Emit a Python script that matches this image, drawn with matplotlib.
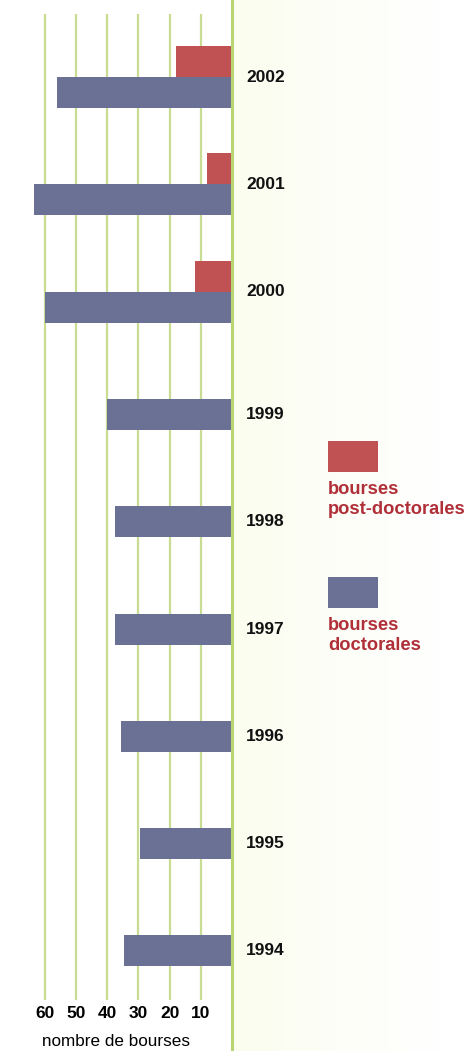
import numpy as np
import matplotlib
matplotlib.use("Agg")
import matplotlib.pyplot as plt
from matplotlib.patches import Rectangle
from matplotlib.lines import Line2D

# nombre de bourses par année
years = ['2002', '2001', '2000', '1999', '1998', '1997', '1996', '1995', '1994']
doctorales = [56, 63.5, 60, 40, 37.5, 37.5, 35.5, 29.5, 34.5]
post_doctorales = [18, 8, 12, 0, 0, 0, 0, 0, 0]
ticks = [60, 50, 40, 30, 20, 10]

RED = '#c05253'
BLUE = '#6b7194'
TXT_RED = '#b02f38'
GRID = '#c8dd92'
AXLINE = '#b7d573'
FONT = ['Liberation Sans', 'DejaVu Sans']

W, H = 468, 1051
fig = plt.figure(figsize=(W / 100, H / 100), dpi=100)
fig.patch.set_facecolor('white')

# faint yellow-green wash to the right of the axis
bg = fig.add_axes([232 / W, 0, 210 / W, 1], zorder=0)
grad = np.linspace(1, 0, 200)[None, :]
bg.imshow(grad, aspect='auto', cmap=matplotlib.colors.LinearSegmentedColormap.from_list(
    'wash', ['#ffffff', '#fbfdef']), extent=[0, 1, 0, 1])
bg.axis('off')

# axes: 0 at x=232px, 3.12 px per bourse, top 14px, bottom 1000px
top, bottom = 14, 1000
ax = fig.add_axes([0, 1 - bottom / H, 232 / W, (bottom - top) / H], zorder=1)
ax.patch.set_alpha(0)
slot = 107.3
h = 31 / slot
ax.set_xlim(232 / 3.12, 0)
ax.set_ylim((bottom - 92.5) / slot, -(92.5 - top) / slot)

y = np.arange(len(years))
ax.barh(y, doctorales, height=h, color=BLUE, zorder=2)
ax.barh(y - h, post_doctorales, height=h, color=RED, zorder=2)

for t in ticks:
    ax.axvline(t, color=GRID, lw=1.6, zorder=1)

for s in ax.spines.values():
    s.set_visible(False)
ax.set_yticks([])
ax.set_xticks(ticks)
ax.set_xticklabels([str(t) for t in ticks], fontfamily=FONT,
                   fontweight='bold', fontsize=12.5)
ax.tick_params(axis='x', length=0, pad=4)
ax.set_xlabel('nombre de bourses', fontfamily=FONT, fontsize=12.3, labelpad=10)

for i, yr in enumerate(years):
    yy = i - h / 2 if post_doctorales[i] > 0 else i
    ax.text(-4.5, yy, yr, ha='left', va='center', fontsize=12.5,
            fontfamily=FONT, fontweight='bold', color='#111111', clip_on=False)

# full-height axis line at zero
fig.add_artist(Line2D([232 / W, 232 / W], [0, 1], color=AXLINE, lw=2.2, zorder=3))

# legend
def legend_item(y0, color, lines):
    fig.add_artist(Rectangle((328 / W, 1 - (y0 + 31) / H), 50 / W, 31 / H,
                             facecolor=color, edgecolor='none'))
    fig.text(328 / W, 1 - (y0 + 40) / H, lines, ha='left', va='top', color=TXT_RED,
             fontsize=13.2, fontweight='bold', linespacing=1.2, fontfamily=FONT)

legend_item(441, RED, 'bourses\npost-doctorales')
legend_item(577, BLUE, 'bourses\ndoctorales')

fig.savefig('out.png', dpi=100)
